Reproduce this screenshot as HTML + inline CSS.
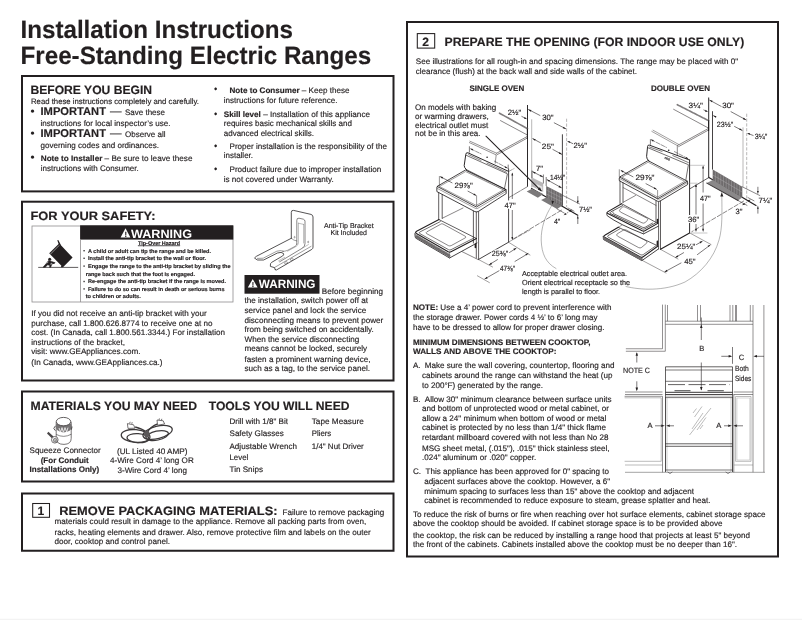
<!DOCTYPE html>
<html lang="en"><head><meta charset="utf-8"><title>Installation Instructions - Free-Standing Electric Ranges</title>
<style>
html,body{margin:0;padding:0;background:#fff;}
body{width:802px;height:620px;overflow:hidden;}
svg{display:block;will-change:transform;font-family:"Liberation Sans",Arial,Helvetica,sans-serif;fill:#231f20;text-rendering:geometricPrecision;}
svg text{stroke:#231f20;stroke-width:.16px;paint-order:stroke}
svg .ln{fill:none;stroke:#231f20;stroke-width:.6;stroke-linejoin:round;stroke-linecap:round}
</style></head><body>
<svg width="802" height="620" viewBox="0 0 802 620">
<rect x="0" y="618.7" width="802" height="1.3" fill="#f3f3f3"/>
<text x="20.5" y="38" font-size="25" font-weight="bold" textLength="272.5" lengthAdjust="spacingAndGlyphs">Installation Instructions</text>
<text x="20.5" y="63.6" font-size="25" font-weight="bold" textLength="350.75" lengthAdjust="spacingAndGlyphs">Free-Standing Electric Ranges</text>
<rect x="22.0" y="76.0" width="371.5" height="115.4" fill="none" stroke="#231f20" stroke-width="2"/>
<text x="30.5" y="94" font-size="12.1" font-weight="bold" textLength="121.5" lengthAdjust="spacingAndGlyphs">BEFORE YOU BEGIN</text>
<text x="31" y="103.5" font-size="7.8" textLength="168" lengthAdjust="spacingAndGlyphs">Read these instructions completely and carefully.</text>
<text x="30.4" y="114.6" font-size="11.5">•</text>
<text x="40.5" y="115" font-size="11.3" font-weight="bold" textLength="65.5" lengthAdjust="spacingAndGlyphs">IMPORTANT</text>
<text x="110" y="115.3" font-size="11.3" font-weight="bold" textLength="11.5" lengthAdjust="spacingAndGlyphs" fill="#6d6a6b" stroke="#6d6a6b">—</text>
<text x="125" y="115" font-size="8.06" textLength="40" lengthAdjust="spacingAndGlyphs">Save these</text>
<text x="40.5" y="126" font-size="8.06" textLength="130.0" lengthAdjust="spacingAndGlyphs">instructions for local inspector’s use.</text>
<text x="30.4" y="136.6" font-size="11.5">•</text>
<text x="40.5" y="137" font-size="11.3" font-weight="bold" textLength="65.5" lengthAdjust="spacingAndGlyphs">IMPORTANT</text>
<text x="110" y="137.3" font-size="11.3" font-weight="bold" textLength="11.5" lengthAdjust="spacingAndGlyphs" fill="#6d6a6b" stroke="#6d6a6b">—</text>
<text x="125" y="137" font-size="8.06" textLength="40.5" lengthAdjust="spacingAndGlyphs">Observe all</text>
<text x="40.5" y="147.8" font-size="8.06" textLength="118.5" lengthAdjust="spacingAndGlyphs">governing codes and ordinances.</text>
<text x="30.4" y="161" font-size="11.5">•</text>
<text x="40.75" y="160.75" font-size="8.06" textLength="151.75" lengthAdjust="spacingAndGlyphs"><tspan font-weight="bold">Note to Installer</tspan> – Be sure to leave these</text>
<text x="40.75" y="170.5" font-size="8.06" textLength="98.0" lengthAdjust="spacingAndGlyphs">instructions with Consumer.</text>
<text x="214.05" y="92.3" font-size="9.5">•</text>
<text x="229.5" y="92.5" font-size="8.06" textLength="120.0" lengthAdjust="spacingAndGlyphs"><tspan font-weight="bold">Note to Consumer</tspan> – Keep these</text>
<text x="223.75" y="102.75" font-size="8.06" textLength="113.75" lengthAdjust="spacingAndGlyphs">instructions for future reference.</text>
<text x="214.05" y="116.6" font-size="9.5">•</text>
<text x="223.75" y="117" font-size="8.06" textLength="146.25" lengthAdjust="spacingAndGlyphs"><tspan font-weight="bold">Skill level</tspan> – Installation of this appliance</text>
<text x="223.75" y="125.75" font-size="8.06" textLength="128.25" lengthAdjust="spacingAndGlyphs">requires basic mechanical skills and</text>
<text x="223.75" y="135.75" font-size="8.06" textLength="90.25" lengthAdjust="spacingAndGlyphs">advanced electrical skills.</text>
<text x="214.05" y="148.6" font-size="9.5">•</text>
<text x="229.5" y="148.9" font-size="8.06" textLength="157.5" lengthAdjust="spacingAndGlyphs">Proper installation is the responsibility of the</text>
<text x="223.75" y="158" font-size="8.06" textLength="29.25" lengthAdjust="spacingAndGlyphs">installer.</text>
<text x="214.05" y="171.5" font-size="9.5">•</text>
<text x="229.5" y="172" font-size="8.06" textLength="151.75" lengthAdjust="spacingAndGlyphs">Product failure due to improper installation</text>
<text x="223.75" y="181.5" font-size="8.06" textLength="110.0" lengthAdjust="spacingAndGlyphs">is not covered under Warranty.</text>
<rect x="22.0" y="201.7" width="371.5" height="178.8" fill="none" stroke="#231f20" stroke-width="2"/>
<text x="30.5" y="220" font-size="12.1" font-weight="bold" textLength="125.0" lengthAdjust="spacingAndGlyphs">FOR YOUR SAFETY:</text>
<rect x="32" y="226" width="201" height="76" fill="#fff" stroke="#8f8d8e" stroke-width=".8"/>
<rect x="80.1" y="225.3" width="153.2" height="14.3" fill="#231f20"/>
<line x1="80.5" y1="239" x2="80.5" y2="302" stroke="#8f8d8e" stroke-width=".8"/>
<text x="131" y="237.5" font-size="12.1" font-weight="bold" textLength="61" lengthAdjust="spacingAndGlyphs" fill="#fff" stroke="#fff">WARNING</text>
<path d="M125.5 228.3 L130.4 237.4 L120.6 237.4 Z" fill="#fff"/>
<text x="124.5" y="236.9" font-size="7.4" font-weight="bold" fill="#231f20">!</text>
<text x="138" y="244.5" font-size="5.5" font-weight="bold" textLength="42" lengthAdjust="spacingAndGlyphs" text-decoration="underline">Tip-Over Hazard</text>
<rect x="83.4" y="250.0" width="1.4" height="1.4" fill="#3c393a"/>
<text x="88" y="252.6" font-size="5.55" font-weight="bold" textLength="123" lengthAdjust="spacingAndGlyphs">A child or adult can tip the range and be killed.</text>
<rect x="83.4" y="257.59999999999997" width="1.4" height="1.4" fill="#3c393a"/>
<text x="88" y="260.2" font-size="5.55" font-weight="bold" textLength="118" lengthAdjust="spacingAndGlyphs">Install the anti-tip bracket to the wall or floor.</text>
<rect x="83.4" y="265.4" width="1.4" height="1.4" fill="#3c393a"/>
<text x="88" y="268" font-size="5.55" font-weight="bold" textLength="142.5" lengthAdjust="spacingAndGlyphs">Engage the range to the anti-tip bracket by sliding the</text>
<text x="85.75" y="275.8" font-size="5.55" font-weight="bold" textLength="109.25" lengthAdjust="spacingAndGlyphs">range back such that the foot is engaged.</text>
<rect x="83.4" y="280.79999999999995" width="1.4" height="1.4" fill="#3c393a"/>
<text x="88" y="283.4" font-size="5.55" font-weight="bold" textLength="138" lengthAdjust="spacingAndGlyphs">Re-engage the anti-tip bracket if the range is moved.</text>
<rect x="83.4" y="288.2" width="1.4" height="1.4" fill="#3c393a"/>
<text x="88" y="290.8" font-size="5.55" font-weight="bold" textLength="136.5" lengthAdjust="spacingAndGlyphs">Failure to do so can result in death or serious burns</text>
<text x="85.75" y="297.8" font-size="5.55" font-weight="bold" textLength="55.0" lengthAdjust="spacingAndGlyphs">to children or adults.</text>
<text x="31.25" y="315.5" font-size="8.06" textLength="175.5" lengthAdjust="spacingAndGlyphs">If you did not receive an anti-tip bracket with your</text>
<text x="31.25" y="325.75" font-size="8.06" textLength="181.25" lengthAdjust="spacingAndGlyphs">purchase, call 1.800.626.8774 to receive one at no</text>
<text x="31.25" y="335" font-size="8.06" textLength="193.75" lengthAdjust="spacingAndGlyphs">cost. (In Canada, call 1.800.561.3344.) For installation</text>
<text x="31.25" y="344.5" font-size="8.06" textLength="93.75" lengthAdjust="spacingAndGlyphs">instructions of the bracket,</text>
<text x="31.25" y="353.75" font-size="8.06" textLength="109.25" lengthAdjust="spacingAndGlyphs">visit: www.GEAppliances.com.</text>
<text x="31.25" y="364.9" font-size="8.06" textLength="131.25" lengthAdjust="spacingAndGlyphs">(In Canada, www.GEAppliances.ca.)</text>
<text x="324" y="228" font-size="7.0" textLength="49.75" lengthAdjust="spacingAndGlyphs">Anti-Tip Bracket</text>
<text x="330.5" y="234.7" font-size="7.0" textLength="36.5" lengthAdjust="spacingAndGlyphs">Kit Included</text>
<rect x="244.5" y="275" width="75" height="18.7" fill="#231f20"/>
<text x="258.75" y="287.5" font-size="12.1" font-weight="bold" textLength="56.75" lengthAdjust="spacingAndGlyphs" fill="#fff" stroke="#fff">WARNING</text>
<path d="M252.7 279 L257.6 287.6 L247.8 287.6 Z" fill="#fff"/>
<text x="251.85" y="287" font-size="7" font-weight="bold" fill="#231f20">!</text>
<text x="321.75" y="293.5" font-size="8.06" textLength="61.25" lengthAdjust="spacingAndGlyphs">Before beginning</text>
<text x="244.5" y="302.5" font-size="8.06" textLength="123.5" lengthAdjust="spacingAndGlyphs">the installation, switch power off at</text>
<text x="244.5" y="313" font-size="8.06" textLength="121.75" lengthAdjust="spacingAndGlyphs">service panel and lock the service</text>
<text x="244.5" y="322.8" font-size="8.06" textLength="138.75" lengthAdjust="spacingAndGlyphs">disconnecting means to prevent power</text>
<text x="244.5" y="331.75" font-size="8.06" textLength="129.25" lengthAdjust="spacingAndGlyphs">from being switched on accidentally.</text>
<text x="244.5" y="341.75" font-size="8.06" textLength="114.75" lengthAdjust="spacingAndGlyphs">When the service disconnecting</text>
<text x="244.5" y="350.75" font-size="8.06" textLength="122.5" lengthAdjust="spacingAndGlyphs">means cannot be locked, securely</text>
<text x="244.5" y="361.75" font-size="8.06" textLength="126.0" lengthAdjust="spacingAndGlyphs">fasten a prominent warning device,</text>
<text x="244.5" y="371.25" font-size="8.06" textLength="125.5" lengthAdjust="spacingAndGlyphs">such as a tag, to the service panel.</text>
<rect x="22.0" y="391.5" width="371.5" height="90.0" fill="none" stroke="#231f20" stroke-width="2"/>
<text x="30.5" y="410" font-size="12.1" font-weight="bold" textLength="166.5" lengthAdjust="spacingAndGlyphs">MATERIALS YOU MAY NEED</text>
<text x="208.75" y="410" font-size="12.1" font-weight="bold" textLength="140.75" lengthAdjust="spacingAndGlyphs">TOOLS YOU WILL NEED</text>
<text x="29.5" y="452.5" font-size="8.06" textLength="71.25" lengthAdjust="spacingAndGlyphs">Squeeze Connector</text>
<text x="40.7" y="462.5" font-size="8.06" font-weight="bold" textLength="48.05" lengthAdjust="spacingAndGlyphs">(For Conduit</text>
<text x="29.5" y="471.75" font-size="8.06" font-weight="bold" textLength="69.75" lengthAdjust="spacingAndGlyphs">Installations Only)</text>
<text x="117" y="453.75" font-size="8.06" textLength="70.5" lengthAdjust="spacingAndGlyphs">(UL Listed 40 AMP)</text>
<text x="110" y="462.5" font-size="8.06" textLength="83.75" lengthAdjust="spacingAndGlyphs">4-Wire Cord 4’ long OR</text>
<text x="117.5" y="472.5" font-size="8.06" textLength="69.5" lengthAdjust="spacingAndGlyphs">3-Wire Cord 4’ long</text>
<text x="229.5" y="423.75" font-size="8.06" textLength="58.5" lengthAdjust="spacingAndGlyphs">Drill with 1/8" Bit</text>
<text x="229.5" y="435.75" font-size="8.06" textLength="54.25" lengthAdjust="spacingAndGlyphs">Safety Glasses</text>
<text x="229.5" y="448.75" font-size="8.06" textLength="67.5" lengthAdjust="spacingAndGlyphs">Adjustable Wrench</text>
<text x="229.5" y="460" font-size="8.06" textLength="18.75" lengthAdjust="spacingAndGlyphs">Level</text>
<text x="229.5" y="471.7" font-size="8.06" textLength="33.5" lengthAdjust="spacingAndGlyphs">Tin Snips</text>
<text x="311.75" y="423.75" font-size="8.06" textLength="52.0" lengthAdjust="spacingAndGlyphs">Tape Measure</text>
<text x="311.75" y="435.75" font-size="8.06" textLength="19.5" lengthAdjust="spacingAndGlyphs">Pliers</text>
<text x="311.75" y="448.75" font-size="8.06" textLength="52.0" lengthAdjust="spacingAndGlyphs">1/4" Nut Driver</text>
<rect x="22.0" y="493.5" width="371.5" height="57.25" fill="none" stroke="#231f20" stroke-width="2"/>
<rect x="32.7" y="503.5" width="16.8" height="13.8" fill="none" stroke="#231f20" stroke-width="1.05"/>
<text x="37.5" y="515" font-size="12.1" font-weight="bold">1</text>
<text x="59.25" y="515" font-size="12.1" font-weight="bold" textLength="218.25" lengthAdjust="spacingAndGlyphs">REMOVE PACKAGING MATERIALS:</text>
<text x="282.5" y="515" font-size="8.06" textLength="101.75" lengthAdjust="spacingAndGlyphs">Failure to remove packaging</text>
<text x="54.5" y="523.75" font-size="8.06" textLength="311.75" lengthAdjust="spacingAndGlyphs">materials could result in damage to the appliance. Remove all packing parts from oven,</text>
<text x="54.5" y="535" font-size="8.06" textLength="316.25" lengthAdjust="spacingAndGlyphs">racks, heating elements and drawer. Also, remove protective film and labels on the outer</text>
<text x="54.5" y="543.75" font-size="8.06" textLength="115.5" lengthAdjust="spacingAndGlyphs">door, cooktop and control panel.</text>
<rect x="407.0" y="22.0" width="371" height="534.5" fill="none" stroke="#231f20" stroke-width="2"/>
<rect x="417.3" y="33.6" width="17.4" height="14.5" fill="none" stroke="#231f20" stroke-width="1.05"/>
<text x="422.3" y="45.75" font-size="12.1" font-weight="bold">2</text>
<text x="444.5" y="45.75" font-size="12.1" font-weight="bold" textLength="299.7" lengthAdjust="spacingAndGlyphs">PREPARE THE OPENING (FOR INDOOR USE ONLY)</text>
<text x="415.75" y="63.75" font-size="8.06" textLength="322.45" lengthAdjust="spacingAndGlyphs">See illustrations for all rough-in and spacing dimensions. The range may be placed with 0"</text>
<text x="415.75" y="74" font-size="8.06" textLength="221.25" lengthAdjust="spacingAndGlyphs">clearance (flush) at the back wall and side walls of the cabinet.</text>
<text x="469.5" y="91.25" font-size="8.06" font-weight="bold" textLength="54.75" lengthAdjust="spacingAndGlyphs">SINGLE OVEN</text>
<text x="651" y="91.25" font-size="8.06" font-weight="bold" textLength="59" lengthAdjust="spacingAndGlyphs">DOUBLE OVEN</text>
<text x="415" y="109.5" font-size="8.06" textLength="81.25" lengthAdjust="spacingAndGlyphs">On models with baking</text>
<text x="415" y="119.25" font-size="8.06" textLength="73.75" lengthAdjust="spacingAndGlyphs">or warming drawers,</text>
<text x="415" y="128" font-size="8.06" textLength="73.25" lengthAdjust="spacingAndGlyphs">electrical outlet must</text>
<text x="415" y="136.25" font-size="8.06" textLength="65.5" lengthAdjust="spacingAndGlyphs">not be in this area.</text>
<text x="522" y="275.5" font-size="7.25" textLength="105" lengthAdjust="spacingAndGlyphs">Acceptable electrical outlet area.</text>
<text x="522" y="284.75" font-size="7.25" textLength="108" lengthAdjust="spacingAndGlyphs">Orient electrical receptacle so the</text>
<text x="522" y="293.5" font-size="7.25" textLength="78" lengthAdjust="spacingAndGlyphs">length is parallel to floor.</text>
<text x="413" y="309.5" font-size="8.06" textLength="198.5" lengthAdjust="spacingAndGlyphs"><tspan font-weight="bold">NOTE:</tspan> Use a 4’ power cord to prevent interference with</text>
<text x="413" y="319.5" font-size="8.06" textLength="184.5" lengthAdjust="spacingAndGlyphs">the storage drawer. Power cords 4 ½’ to 6’ long may</text>
<text x="413" y="329.6" font-size="8.06" textLength="191.5" lengthAdjust="spacingAndGlyphs">have to be dressed to allow for proper drawer closing.</text>
<text x="424.8" y="367.7" font-size="8.06" textLength="189.6" lengthAdjust="spacingAndGlyphs">Make sure the wall covering, countertop, flooring and</text>
<text x="422" y="377.5" font-size="8.06" textLength="190.5" lengthAdjust="spacingAndGlyphs">cabinets around the range can withstand the heat (up</text>
<text x="422" y="387.5" font-size="8.06" textLength="121" lengthAdjust="spacingAndGlyphs">to 200°F) generated by the range.</text>
<text x="424.8" y="401.5" font-size="8.06" textLength="186.7" lengthAdjust="spacingAndGlyphs">Allow 30" minimum clearance between surface units</text>
<text x="422" y="410.8" font-size="8.06" textLength="187" lengthAdjust="spacingAndGlyphs">and bottom of unprotected wood or metal cabinet, or</text>
<text x="422" y="420.5" font-size="8.06" textLength="184.4" lengthAdjust="spacingAndGlyphs">allow a 24" minimum when bottom of wood or metal</text>
<text x="422" y="430.25" font-size="8.06" textLength="184" lengthAdjust="spacingAndGlyphs">cabinet is protected by no less than 1/4" thick flame</text>
<text x="422" y="439.5" font-size="8.06" textLength="186.5" lengthAdjust="spacingAndGlyphs">retardant millboard covered with not less than No 28</text>
<text x="422" y="450.5" font-size="8.06" textLength="187.5" lengthAdjust="spacingAndGlyphs">MSG sheet metal, (.015"), .015" thick stainless steel,</text>
<text x="422" y="459.8" font-size="8.06" textLength="114.25" lengthAdjust="spacingAndGlyphs">.024" aluminum or .020" copper.</text>
<text x="425.5" y="473.75" font-size="8.06" textLength="183.5" lengthAdjust="spacingAndGlyphs">This appliance has been approved for 0" spacing to</text>
<text x="424.25" y="483.6" font-size="8.06" textLength="185.75" lengthAdjust="spacingAndGlyphs">adjacent surfaces above the cooktop. However, a 6"</text>
<text x="424.25" y="493.6" font-size="8.06" textLength="269.75" lengthAdjust="spacingAndGlyphs">minimum spacing to surfaces less than 15" above the cooktop and adjacent</text>
<text x="424.25" y="502.5" font-size="8.06" textLength="286.25" lengthAdjust="spacingAndGlyphs">cabinet is recommended to reduce exposure to steam, grease splatter and heat.</text>
<text x="413" y="516.5" font-size="8.06" textLength="352.5" lengthAdjust="spacingAndGlyphs">To reduce the risk of burns or fire when reaching over hot surface elements, cabinet storage space</text>
<text x="413" y="526.3" font-size="8.06" textLength="309.5" lengthAdjust="spacingAndGlyphs">above the cooktop should be avoided. If cabinet storage space is to be provided above</text>
<text x="413" y="537.5" font-size="8.06" textLength="337" lengthAdjust="spacingAndGlyphs">the cooktop, the risk can be reduced by installing a range hood that projects at least 5" beyond</text>
<text x="413" y="546.5" font-size="8.06" textLength="324" lengthAdjust="spacingAndGlyphs">the front of the cabinets. Cabinets installed above the cooktop must be no deeper than 16".</text>
<text x="413" y="367.7" font-size="8.06">A.</text>
<text x="413" y="401.5" font-size="8.06">B.</text>
<text x="413" y="473.75" font-size="8.06">C.</text>
<text x="413" y="344.6" font-size="8.06" font-weight="bold" textLength="177.5" lengthAdjust="spacingAndGlyphs">MINIMUM DIMENSIONS BETWEEN COOKTOP,</text>
<text x="413" y="353.6" font-size="8.06" font-weight="bold" textLength="143.4" lengthAdjust="spacingAndGlyphs">WALLS AND ABOVE THE COOKTOP:</text>
<path d="M662.5 305 V348.75 H626.25" fill="none" stroke="#4a4648" stroke-width="0.6" stroke-linejoin="round" stroke-linecap="round" />
<path d="M665.3 305 V351.25 H626.25" fill="none" stroke="#4a4648" stroke-width="0.6" stroke-linejoin="round" stroke-linecap="round" />
<line x1="667.5" y1="305" x2="667.5" y2="321.2" stroke="#4a4648" stroke-width="0.6"/>
<line x1="697.5" y1="305" x2="697.5" y2="321.2" stroke="#4a4648" stroke-width="0.6"/>
<line x1="700.5" y1="305" x2="700.5" y2="321.2" stroke="#4a4648" stroke-width="0.6"/>
<line x1="730" y1="305" x2="730" y2="321.2" stroke="#4a4648" stroke-width="0.6"/>
<line x1="732.8" y1="305" x2="732.8" y2="321.2" stroke="#4a4648" stroke-width="0.6"/>
<line x1="735.5" y1="305" x2="735.5" y2="321.2" stroke="#4a4648" stroke-width="0.6"/>
<line x1="736.5" y1="305" x2="736.5" y2="321.2" stroke="#4a4648" stroke-width="0.6"/>
<line x1="750.3" y1="305" x2="750.3" y2="321.2" stroke="#4a4648" stroke-width="0.6"/>
<line x1="665.3" y1="321.2" x2="753" y2="321.2" stroke="#4a4648" stroke-width="0.6"/>
<line x1="665.3" y1="324.3" x2="753" y2="324.3" stroke="#4a4648" stroke-width="0.6"/>
<line x1="753" y1="305" x2="753" y2="472.3" stroke="#4a4648" stroke-width="0.6"/>
<line x1="763.9" y1="305" x2="763.9" y2="472.3" stroke="#4a4648" stroke-width="0.6"/>
<line x1="701.3" y1="317.5" x2="701.3" y2="340" stroke="#231f20" stroke-width="0.6"/>
<path d="M701.30 324.50 L702.55 328.10 L700.05 328.10 Z" fill="#231f20"/>
<line x1="701.3" y1="362.5" x2="701.3" y2="390" stroke="#231f20" stroke-width="0.6"/>
<path d="M701.30 390.60 L700.05 387.00 L702.55 387.00 Z" fill="#231f20"/>
<text x="699.2" y="350.8" font-size="7.6">B</text>
<line x1="732.5" y1="347" x2="732.5" y2="363.8" stroke="#231f20" stroke-width="0.6"/>
<line x1="721.3" y1="356.3" x2="731" y2="356.3" stroke="#231f20" stroke-width="0.6"/>
<path d="M732.20 356.30 L728.60 357.55 L728.60 355.05 Z" fill="#231f20"/>
<line x1="755" y1="356.3" x2="764" y2="356.3" stroke="#231f20" stroke-width="0.6"/>
<path d="M753.40 356.30 L757.00 355.05 L757.00 357.55 Z" fill="#231f20"/>
<text x="738.8" y="359.5" font-size="7.6">C</text>
<text x="735" y="371.3" font-size="7.6" textLength="13.8" lengthAdjust="spacingAndGlyphs">Both</text>
<text x="735" y="380.5" font-size="7.6" textLength="16.3" lengthAdjust="spacingAndGlyphs">Sides</text>
<text x="623" y="372.5" font-size="7.6" textLength="27" lengthAdjust="spacingAndGlyphs">NOTE C</text>
<line x1="636.8" y1="353" x2="636.8" y2="362.5" stroke="#231f20" stroke-width="0.6"/>
<path d="M636.80 352.20 L638.05 355.80 L635.55 355.80 Z" fill="#231f20"/>
<line x1="636.8" y1="381.3" x2="636.8" y2="390" stroke="#231f20" stroke-width="0.6"/>
<path d="M636.80 391.20 L635.55 387.60 L638.05 387.60 Z" fill="#231f20"/>
<path d="M665.5 397 V366.8 H732.5 V397" fill="none" stroke="#231f20" stroke-width="0.7" stroke-linejoin="round" stroke-linecap="round" />
<line x1="665.5" y1="370" x2="732.5" y2="370" stroke="#231f20" stroke-width="0.6"/>
<line x1="665.5" y1="381.3" x2="732.5" y2="381.3" stroke="#231f20" stroke-width="0.6"/>
<line x1="668" y1="384.6" x2="730" y2="384.6" stroke="#231f20" stroke-width="0.7" stroke-dasharray="17 3.5"/>
<line x1="674.5" y1="390.7" x2="690.5" y2="390.7" stroke="#555" stroke-width="1.1"/>
<line x1="707.5" y1="390.7" x2="723.8" y2="390.7" stroke="#555" stroke-width="1.1"/>
<line x1="665.5" y1="392.3" x2="732.5" y2="392.3" stroke="#231f20" stroke-width="0.9"/>
<line x1="665.5" y1="394.6" x2="732.5" y2="394.6" stroke="#231f20" stroke-width="0.9"/>
<line x1="666" y1="396.3" x2="732" y2="396.3" stroke="#888" stroke-width="0.5"/>
<line x1="666" y1="397.6" x2="732" y2="397.6" stroke="#231f20" stroke-width="0.6"/>
<line x1="625" y1="392" x2="662.5" y2="392" stroke="#4a4648" stroke-width="0.6"/>
<line x1="625" y1="394.5" x2="662.5" y2="394.5" stroke="#4a4648" stroke-width="0.6"/>
<line x1="733.8" y1="392" x2="753" y2="392" stroke="#4a4648" stroke-width="0.6"/>
<line x1="733.8" y1="394.5" x2="753" y2="394.5" stroke="#4a4648" stroke-width="0.6"/>
<path d="M625 396.3 H662.5 V472" fill="none" stroke="#4a4648" stroke-width="0.6" stroke-linejoin="round" stroke-linecap="round" />
<path d="M625 397.8 H661.2 V461.3 H625" fill="none" stroke="#777" stroke-width="0.5" stroke-linejoin="round" stroke-linecap="round" />
<line x1="625" y1="465" x2="662.5" y2="465" stroke="#777" stroke-width="0.5"/>
<path d="M733.8 394.5 V472" fill="none" stroke="#4a4648" stroke-width="0.6" stroke-linejoin="round" stroke-linecap="round" />
<path d="M736 396.5 H751 V461.3 H736 Z" fill="none" stroke="#777" stroke-width="0.5" stroke-linejoin="round" stroke-linecap="round" />
<path d="M737.3 398 H749.8 V460 H737.3 Z" fill="none" stroke="#999" stroke-width="0.4" stroke-linejoin="round" stroke-linecap="round" />
<line x1="733.8" y1="465" x2="753" y2="465" stroke="#777" stroke-width="0.5"/>
<line x1="665.5" y1="397" x2="665.5" y2="472" stroke="#231f20" stroke-width="0.8"/>
<line x1="667" y1="398" x2="667" y2="471.5" stroke="#888" stroke-width="0.4"/>
<line x1="732.5" y1="397" x2="732.5" y2="472" stroke="#231f20" stroke-width="0.8"/>
<line x1="731" y1="398" x2="731" y2="471.5" stroke="#888" stroke-width="0.4"/>
<line x1="665.5" y1="443.8" x2="732.5" y2="443.8" stroke="#231f20" stroke-width="0.7"/>
<line x1="665.5" y1="446.3" x2="732.5" y2="446.3" stroke="#231f20" stroke-width="0.7"/>
<line x1="665.5" y1="470" x2="732.5" y2="470" stroke="#231f20" stroke-width="0.6"/>
<line x1="625" y1="472.3" x2="765" y2="472.3" stroke="#666" stroke-width="0.6"/>
<path d="M668 472 l1 1.2 l2 0 l1 -1.2 M726 472 l1 1.2 l2 0 l1 -1.2" fill="none" stroke="#231f20" stroke-width="0.5" stroke-linejoin="round" stroke-linecap="round" />
<line x1="693" y1="413" x2="696.5" y2="408.5" stroke="#555" stroke-width="0.4"/>
<line x1="694.5" y1="417" x2="702" y2="406.5" stroke="#555" stroke-width="0.4"/>
<line x1="692" y1="429" x2="703" y2="413" stroke="#555" stroke-width="0.4"/>
<line x1="689.5" y1="435" x2="711" y2="408" stroke="#555" stroke-width="0.4"/>
<line x1="697" y1="430" x2="706" y2="417.5" stroke="#555" stroke-width="0.4"/>
<line x1="700" y1="429" x2="703" y2="425" stroke="#555" stroke-width="0.4"/>
<text x="647.5" y="428.2" font-size="7.6">A</text>
<line x1="655" y1="425.8" x2="661" y2="425.8" stroke="#231f20" stroke-width="0.6"/>
<path d="M664.80 425.80 L661.20 427.05 L661.20 424.55 Z" fill="#231f20"/>
<line x1="670" y1="425.8" x2="674" y2="425.8" stroke="#231f20" stroke-width="0.6"/>
<path d="M666.20 425.80 L669.80 424.55 L669.80 427.05 Z" fill="#231f20"/>
<text x="716.3" y="428.2" font-size="7.6">A</text>
<line x1="724" y1="425.8" x2="728" y2="425.8" stroke="#231f20" stroke-width="0.6"/>
<path d="M731.80 425.80 L728.20 427.05 L728.20 424.55 Z" fill="#231f20"/>
<line x1="737" y1="425.8" x2="743" y2="425.8" stroke="#231f20" stroke-width="0.6"/>
<path d="M733.30 425.80 L736.90 424.55 L736.90 427.05 Z" fill="#231f20"/>
<line x1="527.5" y1="105" x2="527.5" y2="186.6" stroke="#231f20" stroke-width="0.96"/>
<line x1="531.7" y1="119.3" x2="531.7" y2="187.7" stroke="#8a8788" stroke-width="0.6"/>
<line x1="562.4" y1="134.3" x2="562.4" y2="205.8" stroke="#231f20" stroke-width="0.84"/>
<line x1="566.6" y1="118.7" x2="566.6" y2="207" stroke="#8a8788" stroke-width="0.6" stroke-dasharray="3.2 1.6"/>
<path d="M499.5 113.2 L527.5 128.7" fill="none" stroke="#7f7c7d" stroke-width="1.62" stroke-linejoin="round" stroke-linecap="round" stroke-dasharray=".55 .45" stroke-linecap="butt"/>
<path d="M500.5 120.6 L527.2 134.9" fill="none" stroke="#3a3637" stroke-width="0.6" stroke-linejoin="round" stroke-linecap="round" />
<path d="M527.4 136.4 L496.6 153.2 M527.4 138 L497.2 154.6" fill="none" stroke="#3a3637" stroke-width="0.6" stroke-linejoin="round" stroke-linecap="round" />
<path d="M527.4 128.7 V138.4" fill="none" stroke="#231f20" stroke-width="1.08" stroke-linejoin="round" stroke-linecap="round" />
<path d="M469.9 141.2 L496.6 153.2 M469.4 142.6 L496 154.8" fill="none" stroke="#3a3637" stroke-width="0.54" stroke-linejoin="round" stroke-linecap="round" />
<line x1="496.2" y1="154.8" x2="495.2" y2="163.6" stroke="#3a3637" stroke-width="0.54"/>
<path d="M527.5 186.6 L509.2 197.4" fill="none" stroke="#3a3637" stroke-width="0.6" stroke-linejoin="round" stroke-linecap="round" stroke-dasharray="7 1.2" />
<path d="M531.5 188.6 L577.8 215.2" fill="none" stroke="#231f20" stroke-width="1.2" stroke-linejoin="round" stroke-linecap="round" />
<path d="M532 177.6 L543.2 182.9 L543.2 192 L532 186.6 Z" fill="#b9b7b8"/>
<path d="M536.5 184 L542.3 186.8 L542.3 190.5 L536.5 187.8 Z" fill="#e4e3e3"/>
<path d="M526.7 191.4 L532 188.8 L543.2 194.1 L537.9 197.8 Z" fill="#7b797a"/>
<path d="M546.2 186.1 L561.9 194.1 L561.9 205.8 L546.2 197.8 Z" fill="#6d6a6b"/>
<line x1="548.8166666666667" y1="187.43333333333334" x2="548.8166666666667" y2="199.13333333333333" stroke="#b5b3b4" stroke-width="0.42"/>
<line x1="551.4333333333334" y1="188.76666666666665" x2="551.4333333333334" y2="200.46666666666664" stroke="#b5b3b4" stroke-width="0.42"/>
<line x1="554.0500000000001" y1="190.1" x2="554.0500000000001" y2="201.79999999999998" stroke="#b5b3b4" stroke-width="0.42"/>
<line x1="556.6666666666667" y1="191.43333333333334" x2="556.6666666666667" y2="203.13333333333333" stroke="#b5b3b4" stroke-width="0.42"/>
<line x1="559.2833333333334" y1="192.76666666666665" x2="559.2833333333334" y2="204.46666666666664" stroke="#b5b3b4" stroke-width="0.42"/>
<line x1="546.2" y1="190.0" x2="561.9" y2="198.0" stroke="#b5b3b4" stroke-width="0.42"/>
<line x1="546.2" y1="193.9" x2="561.9" y2="201.9" stroke="#b5b3b4" stroke-width="0.42"/>
<path d="M541.1 199.9 L546.2 197.5 L561.9 205.8 L557.1 209 Z" fill="#7b797a"/>
<path d="M486 136.2 L541 190.6" fill="none" stroke="#231f20" stroke-width="1.08" stroke-linejoin="round" stroke-linecap="round" />
<path d="M541.80 191.40 L537.77 189.49 L539.89 187.37 Z" fill="#231f20"/>
<path d="M552.20 204.60 L551.54 200.83 L554.11 201.28 Z" fill="#231f20"/>
<text x="507.7" y="115" font-size="7.6" textLength="13.5" lengthAdjust="spacingAndGlyphs">2½"</text>
<line x1="521.5" y1="116.3" x2="526" y2="118.6" stroke="#231f20" stroke-width="0.6"/>
<path d="M527.20 119.20 L523.94 118.55 L524.76 116.95 Z" fill="#231f20"/>
<line x1="528.2" y1="109.4" x2="540.296" y2="115.64" stroke="#231f20" stroke-width="0.6"/>
<line x1="553.904" y1="122.66000000000001" x2="566" y2="128.9" stroke="#231f20" stroke-width="0.6"/>
<path d="M528.20 109.40 L531.46 110.07 L530.63 111.67 Z" fill="#231f20"/>
<path d="M566.00 128.90 L562.74 128.23 L563.57 126.63 Z" fill="#231f20"/>
<text x="542.2" y="119.6" font-size="7.6" textLength="11.4" lengthAdjust="spacingAndGlyphs">30"</text>
<line x1="532.5" y1="138.5" x2="540.76" y2="142.952" stroke="#231f20" stroke-width="0.6"/>
<line x1="552.56" y1="149.312" x2="562" y2="154.4" stroke="#231f20" stroke-width="0.6"/>
<path d="M532.50 138.50 L535.74 139.23 L534.89 140.81 Z" fill="#231f20"/>
<path d="M562.00 154.40 L558.76 153.67 L559.61 152.09 Z" fill="#231f20"/>
<text x="541.8" y="148.7" font-size="7.6" textLength="12.1" lengthAdjust="spacingAndGlyphs">25"</text>
<text x="573.6" y="147.6" font-size="7.6" textLength="13.3" lengthAdjust="spacingAndGlyphs">2½"</text>
<line x1="568.5" y1="141.6" x2="573" y2="143.7" stroke="#231f20" stroke-width="0.6"/>
<path d="M567.00 140.90 L570.28 141.44 L569.52 143.07 Z" fill="#231f20"/>
<line x1="532" y1="170.5" x2="532" y2="178" stroke="#231f20" stroke-width="0.6"/>
<line x1="543.4" y1="174.5" x2="543.4" y2="183.5" stroke="#231f20" stroke-width="0.6"/>
<line x1="532.4" y1="171.6" x2="543" y2="177" stroke="#231f20" stroke-width="0.6"/>
<path d="M532.40 171.60 L535.66 172.25 L534.84 173.85 Z" fill="#231f20"/>
<path d="M543.00 177.00 L539.74 176.35 L540.56 174.75 Z" fill="#231f20"/>
<text x="536" y="170.6" font-size="7.6" textLength="7" lengthAdjust="spacingAndGlyphs">7"</text>
<line x1="546.2" y1="177" x2="546.2" y2="186" stroke="#231f20" stroke-width="0.6"/>
<line x1="546.8" y1="179.6" x2="561.7" y2="187.9" stroke="#231f20" stroke-width="0.6"/>
<path d="M546.80 179.60 L550.03 180.37 L549.16 181.94 Z" fill="#231f20"/>
<path d="M561.70 187.90 L558.47 187.13 L559.34 185.56 Z" fill="#231f20"/>
<text x="550" y="180.4" font-size="7.6" textLength="15.2" lengthAdjust="spacingAndGlyphs">14½"</text>
<path d="M562.4 195.2 L579.5 203.9" fill="none" stroke="#3a3637" stroke-width="0.6" stroke-linejoin="round" stroke-linecap="round" />
<line x1="577.8" y1="196.2" x2="577.8" y2="202" stroke="#231f20" stroke-width="0.6"/>
<path d="M577.80 203.90 L576.90 200.70 L578.70 200.70 Z" fill="#231f20"/>
<line x1="577.8" y1="224" x2="577.8" y2="218" stroke="#231f20" stroke-width="0.6"/>
<path d="M577.80 215.30 L578.70 218.50 L576.90 218.50 Z" fill="#231f20"/>
<text x="579" y="212.4" font-size="7.6" textLength="13" lengthAdjust="spacingAndGlyphs">7½"</text>
<path d="M557.1 209 L564.5 213.2 M568 208 L574 211.2" fill="none" stroke="#3a3637" stroke-width="0.6" stroke-linejoin="round" stroke-linecap="round" />
<path d="M563.60 215.20 L565.75 212.92 L566.65 214.48 Z" fill="#231f20"/>
<path d="M572.30 209.60 L570.15 211.88 L569.25 210.32 Z" fill="#231f20"/>
<line x1="565" y1="214.4" x2="571" y2="210.4" stroke="#3a3637" stroke-width="0.6" stroke-dasharray="1.5 1"/>
<text x="553.9" y="224.2" font-size="7.6" textLength="6.4" lengthAdjust="spacingAndGlyphs">4"</text>
<path d="M561.5 210.2 L512.5 239.5" fill="none" stroke="#3a3637" stroke-width="0.6" stroke-linejoin="round" stroke-linecap="round" stroke-dasharray="4.5 2" />
<path d="M551.5 206 C545 216 541 228 541.2 240 C541.6 254 546 263 556 268.5" fill="none" stroke="#666" stroke-width="0.48" stroke-linejoin="round" stroke-linecap="round" />
<path d="M466.3 169.6 Q464 167.4 464.2 165.5 L465.8 154.4 Q466 152.2 468 152.8 L508.2 171.2" fill="none" stroke="#231f20" stroke-width="0.96" stroke-linejoin="round" stroke-linecap="round" />
<path d="M466 155.2 L507.4 173.8 L504.4 189" fill="none" stroke="#3a3637" stroke-width="0.72" stroke-linejoin="round" stroke-linecap="round" />
<path d="M468.6 154.6 L481 160.4 M487 163.2 L506.6 172.2" fill="none" stroke="#3a3637" stroke-width="0.6" stroke-linejoin="round" stroke-linecap="round" />
<path d="M466.3 169.6 L506 189.6" fill="none" stroke="#231f20" stroke-width="0.72" stroke-linejoin="round" stroke-linecap="round" />
<path d="M467 171.4 L504.8 190.4" fill="none" stroke="#8a8788" stroke-width="0.48" stroke-linejoin="round" stroke-linecap="round" />
<line x1="469.4" y1="146.3" x2="469.4" y2="152.6" stroke="#231f20" stroke-width="0.6"/>
<path d="M470.7 148.9 L481 153.8" fill="none" stroke="#3a3637" stroke-width="0.54" stroke-linejoin="round" stroke-linecap="round" stroke-dasharray="4 1.4" />
<path d="M494.3 161.1 L507 167.9" fill="none" stroke="#3a3637" stroke-width="0.54" stroke-linejoin="round" stroke-linecap="round" stroke-dasharray="4 1.4" />
<circle cx="487.1" cy="157.2" r=".8"/>
<path d="M470.20 148.60 L473.10 149.01 L472.38 150.55 Z" fill="#231f20"/>
<path d="M507.60 168.20 L504.72 167.69 L505.49 166.17 Z" fill="#231f20"/>
<line x1="508.2" y1="164.6" x2="508.2" y2="169" stroke="#231f20" stroke-width="0.6"/>
<path d="M437.5 186.2 L465.5 170 L506 189.6 L476.7 206.8 Z" fill="none" stroke="#231f20" stroke-width="0.84" stroke-linejoin="round" stroke-linecap="round" />
<path d="M439.8 186.3 L465.6 171.6 L503.4 189.8 L476.6 205.2 Z" fill="none" stroke="#3a3637" stroke-width="0.48" stroke-linejoin="round" stroke-linecap="round" />
<path d="M437.5 186.2 Q436.6 186.8 436.8 188.4 L436.9 191.6 L474.9 211.6 Q476.8 212.4 478.4 211.4 L506.2 193.6 L506 189.6" fill="none" stroke="#231f20" stroke-width="0.84" stroke-linejoin="round" stroke-linecap="round" />
<path d="M437.2 188.4 L475.5 208.4 Q476.8 208.9 478 208.2 L506 191.4" fill="none" stroke="#3a3637" stroke-width="0.48" stroke-linejoin="round" stroke-linecap="round" />
<line x1="439.4" y1="176" x2="439.4" y2="186" stroke="#231f20" stroke-width="0.48"/>
<line x1="476.6" y1="195.6" x2="476.6" y2="206" stroke="#231f20" stroke-width="0.48"/>
<path d="M440.6 176.8 L452 182.8 M468 191.2 L476 195.4" fill="none" stroke="#231f20" stroke-width="0.6" stroke-linejoin="round" stroke-linecap="round" />
<path d="M440.00 176.50 L443.07 177.11 L442.23 178.70 Z" fill="#231f20"/>
<path d="M476.40 195.60 L473.33 194.99 L474.17 193.40 Z" fill="#231f20"/>
<text x="454.5" y="188" font-size="7.6" textLength="18.2" lengthAdjust="spacingAndGlyphs">29⅞"</text>
<path d="M438.7 192.6 V219.5 M442.2 194.4 V218.4" fill="none" stroke="#231f20" stroke-width="0.72" stroke-linejoin="round" stroke-linecap="round" />
<path d="M442.4 218.2 L463 208" fill="none" stroke="#3a3637" stroke-width="0.6" stroke-linejoin="round" stroke-linecap="round" />
<path d="M473.4 211.2 V243 M476.3 212 V258 M478.6 211.6 V259.4" fill="none" stroke="#231f20" stroke-width="0.72" stroke-linejoin="round" stroke-linecap="round" />
<path d="M478.6 259.4 L508.6 242.2" fill="none" stroke="#231f20" stroke-width="0.84" stroke-linejoin="round" stroke-linecap="round" />
<line x1="508.6" y1="168.6" x2="508.6" y2="242.2" stroke="#231f20" stroke-width="0.84"/>
<line x1="512.3" y1="173.5" x2="512.3" y2="199" stroke="#231f20" stroke-width="0.6"/>
<line x1="512.3" y1="210" x2="512.3" y2="239" stroke="#231f20" stroke-width="0.6"/>
<path d="M512.30 172.40 L513.20 175.60 L511.40 175.60 Z" fill="#231f20"/>
<path d="M512.30 240.20 L511.40 237.00 L513.20 237.00 Z" fill="#231f20"/>
<rect x="504" y="200.4" width="12.4" height="8.4" fill="#fff"/>
<text x="504.6" y="207.5" font-size="7.6" textLength="11.0" lengthAdjust="spacingAndGlyphs">47"</text>
<path d="M508.8 171.4 L514 168.6 M509 241.8 L530 230" fill="none" stroke="#3a3637" stroke-width="0.48" stroke-linejoin="round" stroke-linecap="round" stroke-dasharray="4 1.5" />
<path d="M439 219.6 L416.6 231.3 Q414.8 232.4 416.4 233.5 L448.2 251.8 Q449.6 252.5 451 251.8 L476.5 238.5" fill="none" stroke="#231f20" stroke-width="1.08" stroke-linejoin="round" stroke-linecap="round" />
<path d="M415.3 232.6 Q414.7 233.4 414.9 234.6 L415.5 238 L449.5 258 L477 243" fill="none" stroke="#231f20" stroke-width="0.84" stroke-linejoin="round" stroke-linecap="round" />
<path d="M449.6 252.6 V258" fill="none" stroke="#3a3637" stroke-width="0.48" stroke-linejoin="round" stroke-linecap="round" />
<path d="M440.3 221.6 L419.8 232 Q418.6 232.8 419.8 233.6 L448.6 249.7 Q449.8 250.3 451 249.7 L473.4 238.3" fill="none" stroke="#3a3637" stroke-width="0.72" stroke-linejoin="round" stroke-linecap="round" />
<path d="M441 224 Q441.8 223.4 443 224 L465.2 236.2 Q466.6 237 465.4 237.8 L451.2 245.6 Q449.8 246.3 448.4 245.6 L426.6 233.6 Q425.4 232.8 426.6 232 Z" fill="none" stroke="#3a3637" stroke-width="0.6" stroke-linejoin="round" stroke-linecap="round" />
<path d="M416.2 236.6 L449 255.7" fill="none" stroke="#6f6c6d" stroke-width="2.76" stroke-linejoin="round" stroke-linecap="round" stroke-dasharray=".4 1.0" stroke-linecap="butt"/>
<path d="M415.4 234.4 L449.4 254.2" fill="none" stroke="#3a3637" stroke-width="0.48" stroke-linejoin="round" stroke-linecap="round" />
<path d="M439 219.6 L476.3 238.4" fill="none" stroke="#231f20" stroke-width="0.72" stroke-linejoin="round" stroke-linecap="round" />
<path d="M462.4 251.8 L478 259.5" fill="none" stroke="#3a3637" stroke-width="0.6" stroke-linejoin="round" stroke-linecap="round" />
<path d="M475.4 244 V247.4" fill="none" stroke="#231f20" stroke-width="1.56" stroke-linejoin="round" stroke-linecap="round" />
<path d="M479.4 260 L492.6 267 M509.2 242.6 L519.4 249" fill="none" stroke="#3a3637" stroke-width="0.48" stroke-linejoin="round" stroke-linecap="round" />
<path d="M489.4 264.6 L497.5 259.6 M509.5 252.5 L516 248.4" fill="none" stroke="#231f20" stroke-width="0.6" stroke-linejoin="round" stroke-linecap="round" />
<path d="M489.00 264.90 L491.15 262.62 L492.05 264.18 Z" fill="#231f20"/>
<path d="M516.40 248.10 L514.25 250.38 L513.35 248.82 Z" fill="#231f20"/>
<rect x="491.4" y="249.6" width="17" height="7.4" fill="#fff"/>
<text x="491.8" y="256" font-size="7.6" textLength="16.4" lengthAdjust="spacingAndGlyphs">25⅜"</text>
<path d="M477.4 275.8 L489.4 282.6 M519.6 249.2 L530 255" fill="none" stroke="#3a3637" stroke-width="0.48" stroke-linejoin="round" stroke-linecap="round" />
<path d="M485 278.8 L499 270.8 M515 261.4 L528 253.6" fill="none" stroke="#231f20" stroke-width="0.6" stroke-linejoin="round" stroke-linecap="round" />
<path d="M484.60 279.10 L486.75 276.82 L487.65 278.38 Z" fill="#231f20"/>
<path d="M528.40 253.30 L526.25 255.58 L525.35 254.02 Z" fill="#231f20"/>
<text x="500" y="270.8" font-size="7.6" textLength="15" lengthAdjust="spacingAndGlyphs">47⅜"</text>
<line x1="708.7" y1="97.5" x2="708.7" y2="177.5" stroke="#231f20" stroke-width="0.96"/>
<line x1="712.5" y1="111.2" x2="712.5" y2="169.6" stroke="#231f20" stroke-width="0.84"/>
<line x1="743" y1="127.4" x2="743" y2="186.8" stroke="#8a8788" stroke-width="0.6"/>
<line x1="746.7" y1="113.7" x2="746.7" y2="198.8" stroke="#8a8788" stroke-width="0.6" stroke-dasharray="3.2 1.6"/>
<path d="M677.3 104.7 L708.5 120.6" fill="none" stroke="#7f7c7d" stroke-width="1.62" stroke-linejoin="round" stroke-linecap="round" stroke-dasharray=".55 .45" stroke-linecap="butt"/>
<path d="M673.6 109.3 L708 127.8" fill="none" stroke="#3a3637" stroke-width="0.6" stroke-linejoin="round" stroke-linecap="round" />
<path d="M708.2 128.6 L677.3 145.6 M708.2 130.2 L678.6 146.6" fill="none" stroke="#3a3637" stroke-width="0.6" stroke-linejoin="round" stroke-linecap="round" />
<path d="M708.6 120.6 V130.4" fill="none" stroke="#231f20" stroke-width="1.08" stroke-linejoin="round" stroke-linecap="round" />
<path d="M651.8 131.4 L677.3 145.6 M653 130.2 L678.6 144.4" fill="none" stroke="#3a3637" stroke-width="0.48" stroke-linejoin="round" stroke-linecap="round" />
<line x1="677.3" y1="146.1" x2="677.3" y2="155.5" stroke="#3a3637" stroke-width="0.6"/>
<text x="688.6" y="108.2" font-size="7.6" textLength="14.4" lengthAdjust="spacingAndGlyphs">3¼"</text>
<line x1="703.5" y1="109.8" x2="706.5" y2="111.3" stroke="#231f20" stroke-width="0.6"/>
<path d="M708.00 112.00 L704.92 111.44 L705.74 109.84 Z" fill="#231f20"/>
<line x1="709.4" y1="100" x2="721.511" y2="106.56700000000001" stroke="#231f20" stroke-width="0.6"/>
<line x1="730.686" y1="111.542" x2="746.1" y2="119.9" stroke="#231f20" stroke-width="0.6"/>
<path d="M709.40 100.00 L712.64 100.73 L711.78 102.32 Z" fill="#231f20"/>
<path d="M746.10 119.90 L742.86 119.17 L743.72 117.58 Z" fill="#231f20"/>
<text x="722.2" y="107.5" font-size="7.6" textLength="11.8" lengthAdjust="spacingAndGlyphs">30"</text>
<line x1="713.2" y1="115.6" x2="716.12" y2="117.08999999999999" stroke="#231f20" stroke-width="0.6"/>
<line x1="734.224" y1="126.328" x2="742.4" y2="130.5" stroke="#231f20" stroke-width="0.6"/>
<path d="M713.20 115.60 L716.46 116.25 L715.64 117.86 Z" fill="#231f20"/>
<path d="M742.40 130.50 L739.14 129.85 L739.96 128.24 Z" fill="#231f20"/>
<text x="716.8" y="126.8" font-size="7.6" textLength="16.4" lengthAdjust="spacingAndGlyphs">23½"</text>
<text x="754.8" y="139.3" font-size="7.6" textLength="12.6" lengthAdjust="spacingAndGlyphs">3¼"</text>
<line x1="748.5" y1="133.7" x2="753.5" y2="135.6" stroke="#231f20" stroke-width="0.6"/>
<path d="M747.00 133.00 L750.12 133.23 L749.48 134.92 Z" fill="#231f20"/>
<path d="M708.9 177.5 L690 188.7" fill="none" stroke="#231f20" stroke-width="0.72" stroke-linejoin="round" stroke-linecap="round" />
<path d="M708.9 177.5 L756 205.5" fill="none" stroke="#231f20" stroke-width="1.2" stroke-linejoin="round" stroke-linecap="round" />
<path d="M712.7 169.4 L742.3 186.8 L742.3 197.4 L712.7 180.6 Z" fill="#6d6a6b"/>
<line x1="715.3909090909092" y1="170.9818181818182" x2="715.3909090909092" y2="182.12727272727273" stroke="#b5b3b4" stroke-width="0.42"/>
<line x1="718.0818181818182" y1="172.56363636363636" x2="718.0818181818182" y2="183.65454545454546" stroke="#b5b3b4" stroke-width="0.42"/>
<line x1="720.7727272727274" y1="174.14545454545456" x2="720.7727272727274" y2="185.1818181818182" stroke="#b5b3b4" stroke-width="0.42"/>
<line x1="723.4636363636364" y1="175.72727272727272" x2="723.4636363636364" y2="186.7090909090909" stroke="#b5b3b4" stroke-width="0.42"/>
<line x1="726.1545454545455" y1="177.3090909090909" x2="726.1545454545455" y2="188.23636363636362" stroke="#b5b3b4" stroke-width="0.42"/>
<line x1="728.8454545454546" y1="178.8909090909091" x2="728.8454545454546" y2="189.76363636363635" stroke="#b5b3b4" stroke-width="0.42"/>
<line x1="731.5363636363637" y1="180.47272727272727" x2="731.5363636363637" y2="191.29090909090908" stroke="#b5b3b4" stroke-width="0.42"/>
<line x1="734.2272727272727" y1="182.05454545454546" x2="734.2272727272727" y2="192.8181818181818" stroke="#b5b3b4" stroke-width="0.42"/>
<line x1="736.9181818181819" y1="183.63636363636365" x2="736.9181818181819" y2="194.34545454545454" stroke="#b5b3b4" stroke-width="0.42"/>
<line x1="739.6090909090909" y1="185.21818181818182" x2="739.6090909090909" y2="195.87272727272727" stroke="#b5b3b4" stroke-width="0.42"/>
<line x1="712.7" y1="175" x2="742.3" y2="192.1" stroke="#b5b3b4" stroke-width="0.42"/>
<path d="M706.8 183.1 L712.7 180 L742.3 197.4 L738 200.5 Z" fill="#8a8889"/>
<path d="M706.8 183.1 L738 200.5" fill="none" stroke="#3a3637" stroke-width="1.08" stroke-linejoin="round" stroke-linecap="round" />
<path d="M742.3 186.8 L759.8 195.5" fill="none" stroke="#3a3637" stroke-width="0.6" stroke-linejoin="round" stroke-linecap="round" />
<line x1="757.9" y1="186.8" x2="757.9" y2="192" stroke="#231f20" stroke-width="0.6"/>
<path d="M757.90 194.20 L757.00 191.00 L758.80 191.00 Z" fill="#231f20"/>
<line x1="757.9" y1="213.6" x2="757.9" y2="208" stroke="#231f20" stroke-width="0.6"/>
<path d="M757.90 205.60 L758.80 208.80 L757.00 208.80 Z" fill="#231f20"/>
<text x="758.6" y="203" font-size="7.6" textLength="13.8" lengthAdjust="spacingAndGlyphs">7¼"</text>
<path d="M738 200.5 L747 205.4 M748 197.6 L754 200.8" fill="none" stroke="#3a3637" stroke-width="0.6" stroke-linejoin="round" stroke-linecap="round" />
<path d="M742.00 205.30 L744.15 203.02 L745.05 204.58 Z" fill="#231f20"/>
<path d="M750.80 199.50 L748.65 201.78 L747.75 200.22 Z" fill="#231f20"/>
<line x1="743.5" y1="204.4" x2="749.5" y2="200.4" stroke="#3a3637" stroke-width="0.6" stroke-dasharray="1.5 1"/>
<text x="735.5" y="214.2" font-size="7.6" textLength="6.9" lengthAdjust="spacingAndGlyphs">3"</text>
<path d="M743.6 201.1 L691.8 231.7" fill="none" stroke="#3a3637" stroke-width="0.6" stroke-linejoin="round" stroke-linecap="round" stroke-dasharray="4.5 2" />
<path d="M721.8 195 C722 212 722.6 228 719 240 C714 258 701 273 685 282 C664 291.5 640 290 626 286.5" fill="none" stroke="#666" stroke-width="0.48" stroke-linejoin="round" stroke-linecap="round" />
<path d="M721.80 192.00 L723.30 196.40 L720.30 196.40 Z" fill="#231f20"/>
<path d="M649.1 161.2 Q646.4 158.8 646.6 156.4 L647.6 146.4 Q647.8 144.6 649.6 145.2 L689.2 159.9" fill="none" stroke="#231f20" stroke-width="0.96" stroke-linejoin="round" stroke-linecap="round" />
<path d="M647.6 147.6 L688.4 164.7 L685.8 180.2" fill="none" stroke="#3a3637" stroke-width="0.72" stroke-linejoin="round" stroke-linecap="round" />
<path d="M649.6 147 L662 151.4 M672.8 155.6 L688.4 162.6" fill="none" stroke="#3a3637" stroke-width="0.66" stroke-linejoin="round" stroke-linecap="round" />
<line x1="650.4" y1="139.2" x2="650.4" y2="144.8" stroke="#231f20" stroke-width="0.6"/>
<path d="M651.3 139.8 L666.4 147.4" fill="none" stroke="#3a3637" stroke-width="0.54" stroke-linejoin="round" stroke-linecap="round" stroke-dasharray="4 1.4" />
<path d="M674.4 151.6 L688 158.6" fill="none" stroke="#3a3637" stroke-width="0.54" stroke-linejoin="round" stroke-linecap="round" stroke-dasharray="4 1.4" />
<circle cx="668.7" cy="150.3" r=".8"/>
<path d="M650.90 139.60 L653.78 140.11 L653.01 141.63 Z" fill="#231f20"/>
<path d="M688.50 159.00 L685.62 158.49 L686.39 156.97 Z" fill="#231f20"/>
<text x="664.2" y="158.4" font-size="3.6" transform="rotate(25 664.2 158.4)">ooo</text>
<path d="M620 176.8 L648 160.6 L687.3 181.2 L658 198.6 Z" fill="none" stroke="#231f20" stroke-width="0.84" stroke-linejoin="round" stroke-linecap="round" />
<path d="M622.4 176.9 L648.1 162.2 L684.6 181.3 L658 196.9 Z" fill="none" stroke="#3a3637" stroke-width="0.48" stroke-linejoin="round" stroke-linecap="round" />
<path d="M620 176.8 Q619 177.6 619.2 179 L619.4 180.8 L657.4 201.2 Q658.8 201.8 660.2 201 L687.6 184.6 L687.3 181.2" fill="none" stroke="#231f20" stroke-width="0.84" stroke-linejoin="round" stroke-linecap="round" />
<path d="M619.6 178.6 L657.8 199 Q658.8 199.5 660 198.8 L687.4 182.6" fill="none" stroke="#3a3637" stroke-width="0.48" stroke-linejoin="round" stroke-linecap="round" />
<line x1="619.3" y1="169.3" x2="619.3" y2="176.8" stroke="#231f20" stroke-width="0.48"/>
<line x1="657.6" y1="190" x2="657.6" y2="198.6" stroke="#231f20" stroke-width="0.48"/>
<path d="M621.2 170.6 L633 176.8 M646 183.7 L656.4 189.2" fill="none" stroke="#231f20" stroke-width="0.6" stroke-linejoin="round" stroke-linecap="round" />
<path d="M620.60 170.30 L623.67 170.91 L622.83 172.50 Z" fill="#231f20"/>
<path d="M656.80 189.40 L653.73 188.79 L654.57 187.20 Z" fill="#231f20"/>
<text x="635.5" y="180" font-size="7.6" textLength="18.9" lengthAdjust="spacingAndGlyphs">29⅞"</text>
<path d="M620 181 V203.4 M623 182.8 V202.4" fill="none" stroke="#231f20" stroke-width="0.72" stroke-linejoin="round" stroke-linecap="round" />
<path d="M623 202.4 L635.5 195.5" fill="none" stroke="#3a3637" stroke-width="0.6" stroke-linejoin="round" stroke-linecap="round" />
<path d="M623.2 187.6 L656 205.4" fill="none" stroke="#3a3637" stroke-width="0.6" stroke-linejoin="round" stroke-linecap="round" />
<path d="M656 201 V222 M658.6 202 V249 M660.5 201 V249.2" fill="none" stroke="#231f20" stroke-width="0.72" stroke-linejoin="round" stroke-linecap="round" />
<path d="M660.5 249.2 L689.6 233" fill="none" stroke="#231f20" stroke-width="1.08" stroke-linejoin="round" stroke-linecap="round" />
<line x1="689.6" y1="159.4" x2="689.6" y2="233" stroke="#231f20" stroke-width="0.96"/>
<line x1="689.8" y1="165.3" x2="705" y2="165.3" stroke="#8a8788" stroke-width="0.48"/>
<line x1="703.1" y1="166.5" x2="703.1" y2="192.5" stroke="#231f20" stroke-width="0.6"/>
<line x1="703.1" y1="203.5" x2="703.1" y2="230.5" stroke="#231f20" stroke-width="0.6"/>
<path d="M703.10 165.40 L704.00 168.60 L702.20 168.60 Z" fill="#231f20"/>
<path d="M703.10 231.90 L702.20 228.70 L704.00 228.70 Z" fill="#231f20"/>
<rect x="699.6" y="193.6" width="11.5" height="8" fill="#fff"/>
<text x="700" y="200.5" font-size="7.6" textLength="10.6" lengthAdjust="spacingAndGlyphs">47"</text>
<line x1="687.3" y1="183.2" x2="697.5" y2="183.2" stroke="#8a8788" stroke-width="0.48"/>
<line x1="696" y1="185" x2="696" y2="214.5" stroke="#231f20" stroke-width="0.6"/>
<line x1="696" y1="224" x2="696" y2="230.5" stroke="#231f20" stroke-width="0.6"/>
<path d="M696.00 183.80 L696.90 187.00 L695.10 187.00 Z" fill="#231f20"/>
<path d="M696.00 231.90 L695.10 228.70 L696.90 228.70 Z" fill="#231f20"/>
<rect x="687.6" y="215" width="12" height="8" fill="#fff"/>
<text x="688" y="221.8" font-size="7.6" textLength="11.3" lengthAdjust="spacingAndGlyphs">36"</text>
<path d="M691.5 233 L707 233" fill="none" stroke="#8a8788" stroke-width="0.48" stroke-linejoin="round" stroke-linecap="round" />
<path d="M621.6 203.7 L608 211.6 Q606.2 212.6 607.8 213.6 L642.2 230.8 Q643.5 231.4 644.8 230.8 L657.8 223.4" fill="none" stroke="#231f20" stroke-width="1.08" stroke-linejoin="round" stroke-linecap="round" />
<path d="M621.6 203.7 L657.8 223.4" fill="none" stroke="#231f20" stroke-width="0.72" stroke-linejoin="round" stroke-linecap="round" />
<path d="M622.6 205.6 L610.6 212 Q609.4 212.8 610.6 213.6 L642.6 229 Q643.6 229.4 644.8 228.8 L655.8 222.8" fill="none" stroke="#3a3637" stroke-width="0.84" stroke-linejoin="round" stroke-linecap="round" />
<path d="M613 212 Q612.4 213 613.6 213.7 L642.8 227.4 Q644 227.8 645.2 227.2 L652.6 223" fill="none" stroke="#3a3637" stroke-width="0.72" stroke-linejoin="round" stroke-linecap="round" />
<path d="M622.7 207 Q623.6 206.4 625 207 L646.6 218 Q648.6 219.2 647.4 220.4 L645 222.6 Q643.8 223.6 642 222.8 L620.4 212 Q618.6 210.8 619.8 209.6 Z" fill="none" stroke="#3a3637" stroke-width="0.6" stroke-linejoin="round" stroke-linecap="round" />
<path d="M606.9 213 Q606.5 214.6 607.3 215.8 Q619 224.4 643.5 233.9 L658.3 226.2" fill="none" stroke="#231f20" stroke-width="0.84" stroke-linejoin="round" stroke-linecap="round" />
<path d="M643.6 231.4 V233.9" fill="none" stroke="#3a3637" stroke-width="0.48" stroke-linejoin="round" stroke-linecap="round" />
<path d="M657.6 219.6 V223" fill="none" stroke="#231f20" stroke-width="1.56" stroke-linejoin="round" stroke-linecap="round" />
<path d="M618.3 227.3 L622 225" fill="none" stroke="#3a3637" stroke-width="0.48" stroke-linejoin="round" stroke-linecap="round" />
<path d="M618.3 227.3 L604.8 235.2 Q603 236.2 604.6 237.2 L640.4 257 Q641.9 257.8 643.2 256.8 L658 246" fill="none" stroke="#231f20" stroke-width="1.08" stroke-linejoin="round" stroke-linecap="round" />
<path d="M618.3 227.3 L658 246" fill="none" stroke="#231f20" stroke-width="0.72" stroke-linejoin="round" stroke-linecap="round" />
<path d="M603.2 236.4 L603.6 239.6 L641.9 260.6 L658.4 249" fill="none" stroke="#231f20" stroke-width="0.84" stroke-linejoin="round" stroke-linecap="round" />
<path d="M641.9 257.8 V260.6" fill="none" stroke="#3a3637" stroke-width="0.48" stroke-linejoin="round" stroke-linecap="round" />
<path d="M619.6 229 L608 235.6 Q607 236.4 608.2 237.2 L640.8 254.8 Q642 255.4 643.2 254.6 L655.6 246" fill="none" stroke="#3a3637" stroke-width="0.72" stroke-linejoin="round" stroke-linecap="round" />
<path d="M623.6 230 Q624.8 229.2 626.2 230 L646 240.8 Q648 242 646.6 243.2 L641.6 247.4 Q640.2 248.4 638.6 247.6 L617.6 236.2 Q615.6 235 617 234 Z" fill="none" stroke="#3a3637" stroke-width="0.6" stroke-linejoin="round" stroke-linecap="round" />
<path d="M604.2 238.5 L641.4 259.1" fill="none" stroke="#6f6c6d" stroke-width="2.64" stroke-linejoin="round" stroke-linecap="round" stroke-dasharray=".4 1.0" stroke-linecap="butt"/>
<path d="M657.4 241.4 V245" fill="none" stroke="#231f20" stroke-width="1.56" stroke-linejoin="round" stroke-linecap="round" />
<path d="M660.6 249.4 L678 259" fill="none" stroke="#3a3637" stroke-width="0.48" stroke-linejoin="round" stroke-linecap="round" />
<path d="M689.8 233 L711 244.5" fill="none" stroke="#3a3637" stroke-width="0.48" stroke-linejoin="round" stroke-linecap="round" />
<path d="M675.8 257.3 L683.6 252.7 M696.4 244.6 L702 241.5" fill="none" stroke="#231f20" stroke-width="0.6" stroke-linejoin="round" stroke-linecap="round" />
<path d="M675.30 257.60 L677.45 255.32 L678.35 256.88 Z" fill="#231f20"/>
<path d="M702.60 241.10 L700.45 243.38 L699.55 241.82 Z" fill="#231f20"/>
<text x="677" y="248.6" font-size="7.6" textLength="18.4" lengthAdjust="spacingAndGlyphs">25¼"</text>
<path d="M642.6 260.6 L666 273" fill="none" stroke="#3a3637" stroke-width="0.48" stroke-linejoin="round" stroke-linecap="round" />
<path d="M665 271.7 L681 263 M697.4 254.6 L710 245.2" fill="none" stroke="#231f20" stroke-width="0.6" stroke-linejoin="round" stroke-linecap="round" />
<path d="M664.50 272.00 L666.73 269.80 L667.57 271.39 Z" fill="#231f20"/>
<path d="M710.60 244.70 L708.62 247.12 L707.61 245.63 Z" fill="#231f20"/>
<text x="684.2" y="264.2" font-size="7.6" textLength="11.4" lengthAdjust="spacingAndGlyphs">45"</text>
<line x1="38.2" y1="267.4" x2="78.2" y2="267.4" stroke="#231f20" stroke-width="0.72"/>
<path d="M49.2 253.3 L58.6 244 L57.3 240.2 L58.3 240 L61.2 245.6 L72.6 257.6 L63 267.2 L60.8 267.2 L61.4 265.8 Z" fill="#231f20"/>
<path d="M50.4 254.2 L59.2 245.4" stroke="#fff" stroke-width=".5" fill="none"/>
<circle cx="49.7" cy="259.2" r="1.5" fill="#231f20"/>
<path d="M48.6 260.6 L51.6 261.4 L54.6 262.6 L54.2 263.4 L51 262.8 L50 264.4 L51.6 265.4 L50.6 267.3 L49.4 267.3 L50 265.8 L47.8 264.8 L45.2 267.3 L43 267.3 L46.2 263.6 Z" fill="#231f20" stroke="#231f20" stroke-width=".5" stroke-linejoin="round"/>
<path d="M46.6 263.2 L48.4 262" stroke="#fff" stroke-width=".5" fill="none"/>
<path d="M51 264.4 L54.8 262.8" fill="none" stroke="#231f20" stroke-width="0.96" stroke-linejoin="round" stroke-linecap="round" />
<path d="M291.3 238.3 V212.4 Q291.3 210 293.6 210.4 L311 214.4 Q313 215 313 217 V247.2 Q313 248.6 311.8 249.4 L276.4 270 Q275.4 270.6 275.2 269.4" fill="none" stroke="#353233" stroke-width="0.84" stroke-linejoin="round" stroke-linecap="round" />
<path d="M291.3 238.3 L256.6 256.2 L254.6 257.8 L255.6 259 L257.6 260 L263.6 260 L277.4 253 Q281.6 251.6 283.4 253.4 Q284.2 255 282.6 256 L271.6 262.4 Q270.2 263.4 270.4 265 L270.4 266.4 L274.4 267.6 L275.2 269.4" fill="none" stroke="#353233" stroke-width="0.84" stroke-linejoin="round" stroke-linecap="round" />
<path d="M257.4 258.4 L263.2 258.2 L276.8 251.2 Q281 249.8 283.6 251.4" fill="none" stroke="#353233" stroke-width="0.48" stroke-linejoin="round" stroke-linecap="round" />
<path d="M274.4 267.6 L311 246.4" fill="none" stroke="#353233" stroke-width="0.48" stroke-linejoin="round" stroke-linecap="round" />
<path d="M296.8 244 V220.4 Q296.8 217.8 299 218.2 L303.4 219.2 Q305 219.8 305 221.4 V243.4 Q305 246.4 302.6 248 L279.6 261.8" fill="none" stroke="#353233" stroke-width="0.6" stroke-linejoin="round" stroke-linecap="round" />
<path d="M298.4 223.2 L303.6 224.4 M298.4 223.2 V243 Q298.2 245 296.4 246.2 L287.6 251.2 M303.6 224.4 V243" fill="none" stroke="#777" stroke-width="0.48" stroke-linejoin="round" stroke-linecap="round" />
<path d="M296.8 244 Q296.6 245.6 295 246.4 L287.4 250.4 Q285 251.6 282.6 251.2 M291.3 238.3 Q293.6 240.6 296.8 241" fill="none" stroke="#353233" stroke-width="0.48" stroke-linejoin="round" stroke-linecap="round" />
<path d="M284.6 257.4 L278.6 260.8 M302.6 248 L308.4 244.6" fill="none" stroke="#777" stroke-width="0.48" stroke-linejoin="round" stroke-linecap="round" />
<ellipse cx="294.6" cy="237.2" rx=".5" ry=".8" fill="none" stroke="#353233" stroke-width=".4"/>
<ellipse cx="308.2" cy="242" rx=".5" ry=".9" fill="none" stroke="#353233" stroke-width=".4"/>
<ellipse cx="291.8" cy="259.4" rx="1.5" ry="1" fill="none" stroke="#353233" stroke-width=".4" transform="rotate(-28 291.8 259.4)"/>
<ellipse cx="286" cy="262.8" rx="1.5" ry="1" fill="none" stroke="#353233" stroke-width=".4" transform="rotate(-28 286 262.8)"/>
<path d="M56.2 421.8 V438.6 Q56.4 444.4 64 444.4 Q71.2 444.2 71.2 438.4 V421.8" fill="#fff" stroke="#3d3a3b" stroke-width=".7"/>
<path d="M55.6 426.2 Q56 431.8 63.6 432.4 Q71.4 432 71.8 426.6 L71.2 423.4 L56.2 423.4 Z" fill="#767374"/>
<path d="M59 428 L60.6 432 L62 427.6 L63.4 432.4 L65 427.6 L66.6 432 L68 427.6" fill="none" stroke="#eee" stroke-width=".9"/>
<ellipse cx="63.5" cy="421.6" rx="7.2" ry="4.2" fill="#fff" stroke="#3d3a3b" stroke-width=".8"/>
<path d="M56.6 434.6 Q63.6 438.4 71 434.4" fill="none" stroke="#3d3a3b" stroke-width="0.6" stroke-linejoin="round" stroke-linecap="round" />
<path d="M54.8 426.6 L53.8 428.6 L55.2 430.4 M72 427 L71.4 429.4" fill="none" stroke="#3d3a3b" stroke-width="0.84" stroke-linejoin="round" stroke-linecap="round" />
<path d="M48.4 431.8 L54 437 L52.4 438.8 L47 433.4 Z" fill="#4a4748"/>
<circle cx="54.8" cy="439.8" r="3.3" fill="#fff" stroke="#3d3a3b" stroke-width=".7"/>
<circle cx="55.2" cy="440.2" r="1.9" fill="#bbb" stroke="#3d3a3b" stroke-width=".5"/>
<circle cx="56.2" cy="441" r=".8" fill="#fff" stroke="#3d3a3b" stroke-width=".4"/>
<ellipse cx="135.6" cy="436" rx="14.4" ry="6.4" fill="none" stroke="#3d3a3b" stroke-width="1.3" transform="rotate(5 135.6 436)"/>
<ellipse cx="138" cy="438.2" rx="11" ry="4.5" fill="none" stroke="#3d3a3b" stroke-width="1.2" transform="rotate(4 138 438.2)"/>
<ellipse cx="157.6" cy="432.4" rx="15" ry="6.2" fill="none" stroke="#3d3a3b" stroke-width="1.3" transform="rotate(-14 157.6 432.4)"/>
<ellipse cx="157.2" cy="435.6" rx="11.4" ry="4.5" fill="none" stroke="#3d3a3b" stroke-width="1.2" transform="rotate(-12 157.2 435.6)"/>
<path d="M135.2 427 Q142 428.4 146.8 432.6 Q150.8 426.4 157.6 423.8" fill="none" stroke="#3d3a3b" stroke-width="1.4"/>
<ellipse cx="146.8" cy="434" rx="2.8" ry="3.4" fill="#5a5758"/>
<path d="M127.4 423.6 L133.6 424.8 L135 428.2 L128 428.4 Z" fill="#fff" stroke="#3d3a3b" stroke-width=".7"/>
<path d="M129.6 423.4 L130.2 421.8 M131.8 423.8 L132.2 422.2" stroke="#3d3a3b" stroke-width=".7"/>
<path d="M157 420 L163.2 420.8 L164.6 424 L157.6 425.2 Z" fill="#fff" stroke="#3d3a3b" stroke-width=".7"/>
<path d="M159 420 L159.4 418.4 M161.4 420.4 L161.8 418.8" stroke="#3d3a3b" stroke-width=".7"/>
</svg>
</body></html>
